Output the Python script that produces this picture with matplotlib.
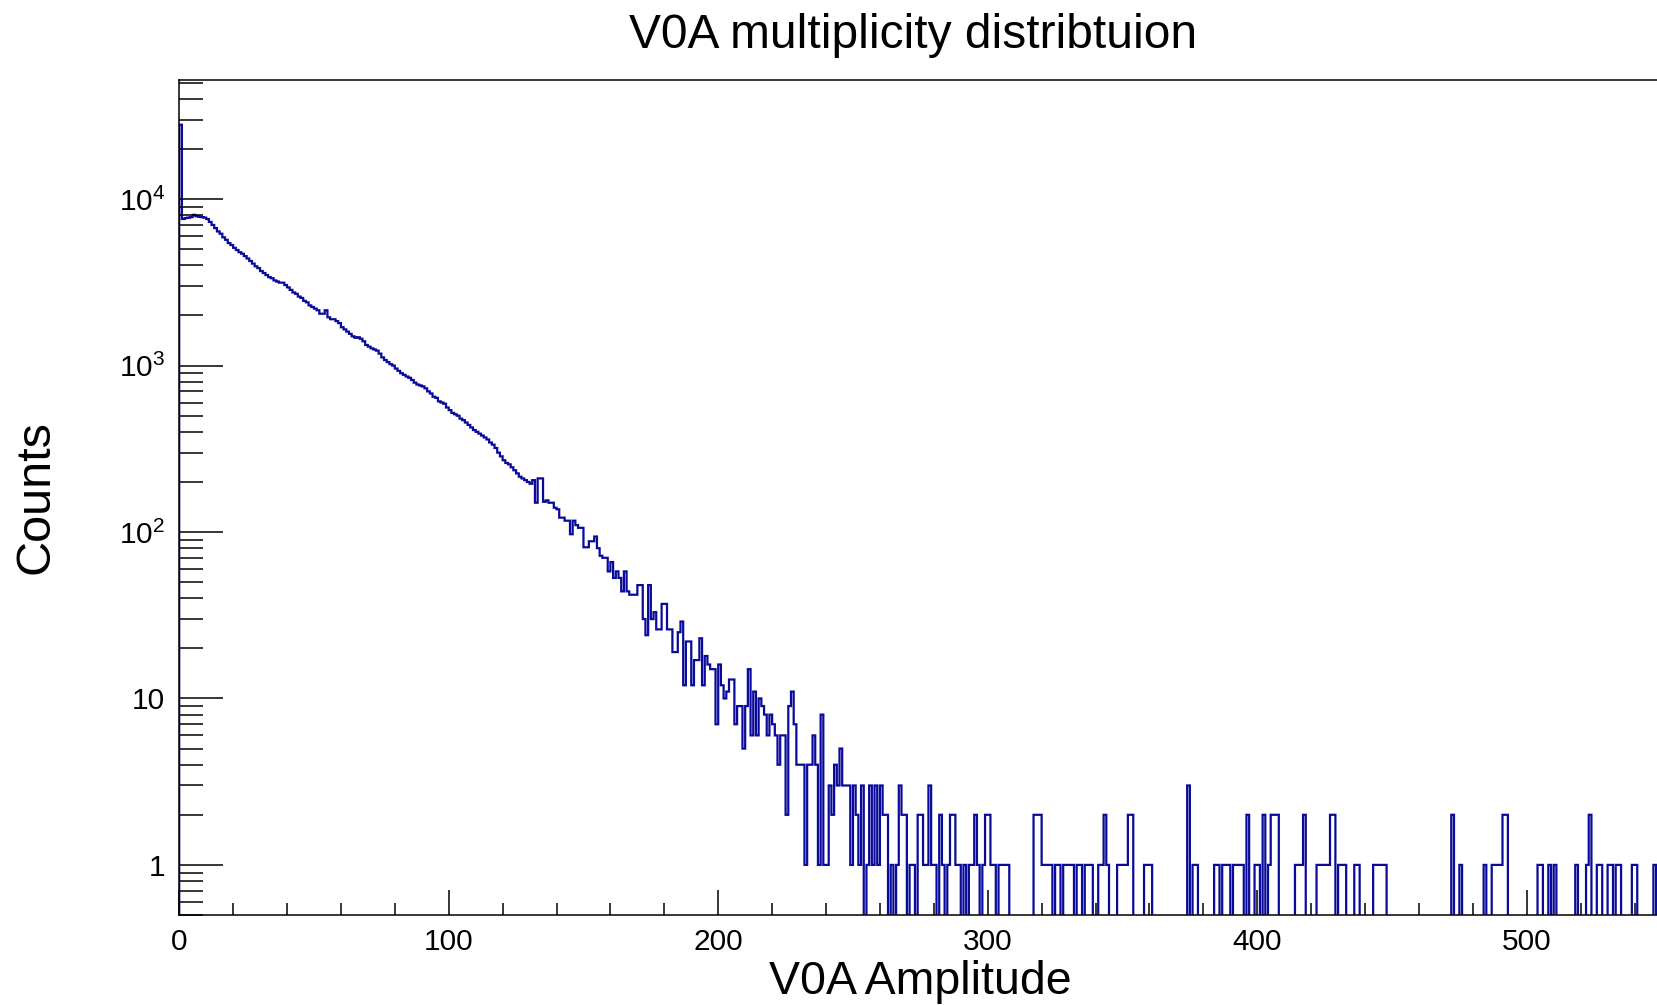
import numpy as np
import matplotlib
matplotlib.use("Agg")
import matplotlib.pyplot as plt
from matplotlib.ticker import LogLocator, FuncFormatter, MultipleLocator, NullFormatter

plt.rcParams['font.family'] = ['Liberation Sans', 'DejaVu Sans']
plt.rcParams['mathtext.default'] = 'regular'

# V0A amplitude histogram, 1 unit wide bins
x_min, x_max = 0, 550
n_bins = 550

# bins 0..253
head_counts = [
    28000, 7600, 7700, 7750, 7800, 8050, 7900, 7850, 7800, 7750,
    7600, 7300, 7000, 6700, 6400, 6200, 5900, 5700, 5450, 5300,
    5100, 4950, 4800, 4700, 4550, 4400, 4250, 4100, 3950, 3850,
    3700, 3600, 3500, 3400, 3350, 3250, 3200, 3150, 3150, 3050,
    2950, 2850, 2750, 2700, 2600, 2550, 2450, 2400, 2300, 2250,
    2200, 2150, 2050, 2050, 2150, 1950, 1900, 1900, 1850, 1800,
    1700, 1650, 1600, 1550, 1500, 1470, 1480, 1450, 1400, 1330,
    1300, 1270, 1250, 1230, 1180, 1120, 1080, 1050, 1020, 1000,
    960, 930, 900, 880, 860, 845, 820, 790, 770, 760,
    750, 730, 700, 680, 650, 640, 610, 600, 590, 560,
    540, 520, 510, 500, 480, 470, 455, 440, 425, 410,
    400, 390, 380, 370, 360, 345, 335, 320, 300, 285,
    270, 260, 255, 245, 235, 225, 215, 210, 205, 200,
    195, 205, 150, 210, 210, 152, 155, 150, 150, 140,
    137, 122, 122, 117, 117, 97, 117, 110, 106, 106,
    81, 81, 88, 88, 94, 80, 72, 70, 70, 58,
    66, 53, 58, 53, 44, 58, 44, 42, 42, 42,
    48, 48, 30, 24, 48, 30, 33, 26, 26, 37,
    37, 26, 26, 19, 19, 25, 29, 12, 22, 22,
    12, 17, 17, 23, 12, 18, 16, 15, 15, 7,
    16, 12, 10, 11, 13, 13, 7, 9, 9, 5,
    9, 15, 6, 11, 6, 10, 9, 8, 6, 8,
    7, 6, 4, 6, 6, 2, 9, 11, 7, 4,
    4, 4, 1, 4, 4, 6, 4, 1, 8, 1,
    1, 3, 2, 4, 3, 5, 3, 3, 3, 1,
    3, 2, 1, 3,
]

# sparse tail, bins 254..549 (bins not listed are empty)
tail_bins = [
    255, 256, 257, 258, 259, 260, 261, 262, 264, 266, 267, 268, 269, 271, 272,
    274, 275, 276, 277, 278, 279, 280, 282, 283, 285, 286, 287, 288, 289, 291,
    293, 294, 295, 296, 298, 299, 300, 301, 302, 304, 305, 306, 307, 317, 318,
    319, 320, 321, 322, 323, 325, 326, 328, 329, 330, 331, 333, 334, 336, 337,
    338, 341, 342, 343, 344, 348, 349, 350, 351, 352, 353, 358, 359, 360, 374,
    376, 377, 384, 385, 387, 388, 389, 391, 392, 393, 394, 396, 399, 400, 402,
    404, 405, 406, 407, 414, 415, 416, 417, 422, 423, 424, 425, 426, 427, 428,
    430, 431, 432, 436, 437, 443, 444, 445, 446, 447, 472, 475, 484, 487, 488,
    489, 490, 491, 492, 504, 505, 508, 510, 518, 522, 523, 526, 527, 530, 531,
    533, 534, 539, 540, 547,
]
tail_counts = [
    1, 3, 1, 3, 1, 3, 2, 2, 1, 1, 3, 2, 2, 1, 1,
    2, 2, 1, 1, 3, 1, 1, 2, 1, 1, 2, 2, 1, 1, 1,
    1, 1, 2, 1, 1, 2, 2, 1, 1, 1, 1, 1, 1, 2, 2,
    2, 1, 1, 1, 1, 1, 1, 1, 1, 1, 1, 1, 1, 1, 1,
    1, 1, 1, 2, 1, 1, 1, 1, 1, 2, 2, 1, 1, 1, 3,
    1, 1, 1, 1, 1, 1, 1, 1, 1, 1, 1, 2, 1, 1, 2,
    1, 2, 2, 2, 1, 1, 1, 2, 1, 1, 1, 1, 1, 2, 2,
    1, 1, 1, 1, 1, 1, 1, 1, 1, 1, 2, 1, 1, 1, 1,
    1, 1, 2, 2, 1, 1, 1, 1, 1, 1, 2, 1, 1, 1, 1,
    1, 1, 1, 1, 1,
]

counts = np.zeros(n_bins)
counts[:len(head_counts)] = head_counts
counts[tail_bins] = tail_counts
edges = np.linspace(x_min, x_max, n_bins + 1)

W, H = 1657, 1005
fig = plt.figure(figsize=(W / 100, H / 100), dpi=100)
# frame: left 179 px, bottom 915 px, top 80 px, right edge just past the picture
ax = fig.add_axes([179.2 / W, (H - 915) / H, 1482.3 / W, 835 / H])

ax.stairs(counts, edges, color='#0a0a9a', lw=1.6, baseline=0)
ax.set_yscale('log')
ax.set_xlim(x_min, x_max)
ax.set_ylim(0.5, 52000)

ax.xaxis.set_major_locator(MultipleLocator(100))
ax.xaxis.set_minor_locator(MultipleLocator(20))
ax.yaxis.set_major_locator(LogLocator(base=10, numticks=20))
ax.yaxis.set_minor_locator(LogLocator(base=10, subs=np.arange(2, 10), numticks=20))
ax.yaxis.set_minor_formatter(NullFormatter())


def ylab(v, pos):
    if v == 1:
        return '1'
    if v == 10:
        return '10'
    return r'$10^{%d}$' % round(np.log10(v))


ax.yaxis.set_major_formatter(FuncFormatter(ylab))

ax.tick_params(axis='x', which='major', direction='in', length=18, width=1.1,
               labelsize=21.5, pad=9, top=False)
ax.tick_params(axis='x', which='minor', direction='in', length=9, width=1.1, top=False)
ax.tick_params(axis='y', which='major', direction='in', length=32, width=1.1,
               labelsize=21.5, pad=10, right=False)
ax.tick_params(axis='y', which='minor', direction='in', length=17, width=1.1, right=False)
for s in ax.spines.values():
    s.set_linewidth(1.1)

fig.text(913 / W, 1 - 35 / H, 'V0A multiplicity distribtuion',
         ha='center', va='center', fontsize=34.5)

ax.set_xlabel('V0A Amplitude', fontsize=33.5)
ax.xaxis.set_label_coords(0.5, (915 - 982) / 835)
ax.xaxis.label.set_va('center')

ax.set_ylabel('Counts', fontsize=35)
ax.yaxis.set_label_coords((36 - 179.2) / 1482.3, 0.5)
ax.yaxis.label.set_va('center')

fig.savefig('out.png', dpi=100)
